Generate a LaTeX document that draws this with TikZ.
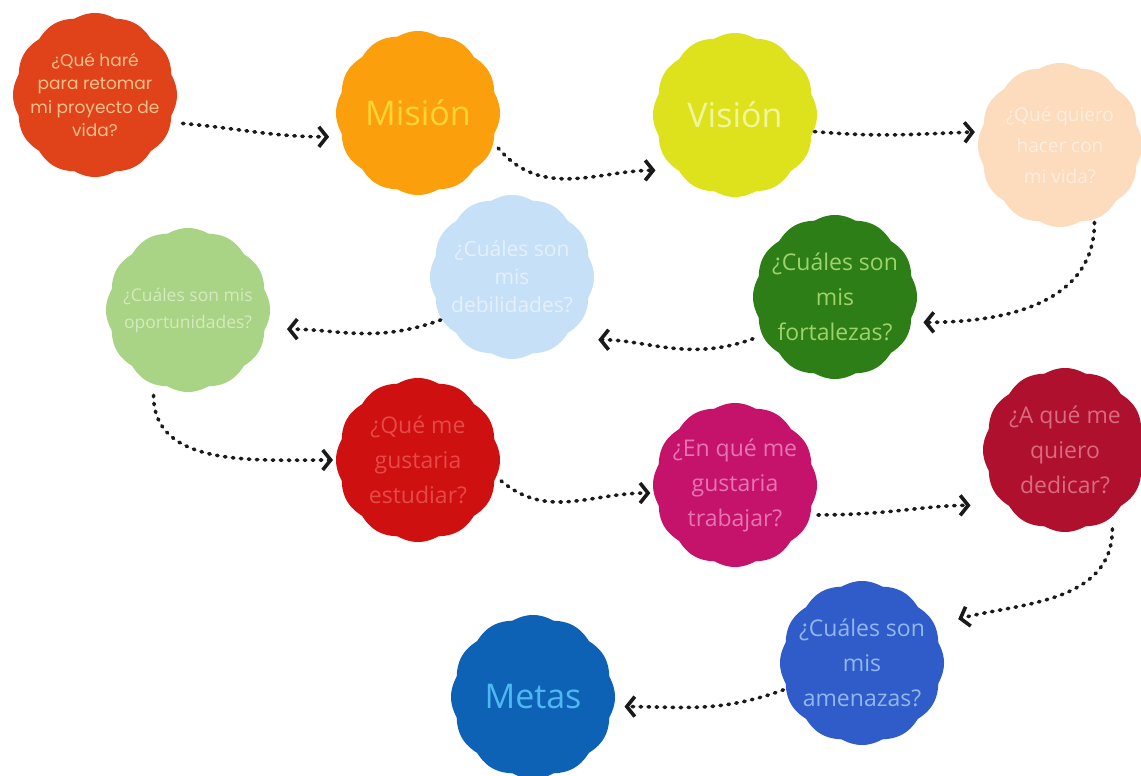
\documentclass[tikz,border=0pt]{standalone}
\usepackage{fontspec}
\setmainfont{Open Sans}
\newfontfamily\popp{Poppins}
\usetikzlibrary{arrows.meta}
\definecolor{c1}{HTML}{E0431A}\definecolor{t1}{HTML}{F6C08C}
\definecolor{c2}{HTML}{FB9F0C}\definecolor{t2}{HTML}{FFD530}
\definecolor{c3}{HTML}{DDE21C}\definecolor{t3}{HTML}{F3F59C}
\definecolor{c4}{HTML}{FDDCBE}\definecolor{t4}{HTML}{FFEEDD}
\definecolor{c5}{HTML}{C6E0F7}\definecolor{t5}{HTML}{E4F0FB}
\definecolor{c6}{HTML}{A9D385}\definecolor{t6}{HTML}{D3EBBE}
\definecolor{c7}{HTML}{2E7E17}\definecolor{t7}{HTML}{9ED36C}
\definecolor{c8}{HTML}{CE1010}\definecolor{t8}{HTML}{E44A46}
\definecolor{c9}{HTML}{C5136B}\definecolor{t9}{HTML}{E574B2}
\definecolor{c10}{HTML}{AE102E}\definecolor{t10}{HTML}{DA6A7E}
\definecolor{c11}{HTML}{2F5CC8}\definecolor{t11}{HTML}{92B6EE}
\definecolor{c12}{HTML}{0E62B6}\definecolor{t12}{HTML}{4DB8F2}
\definecolor{ink}{HTML}{1A1A1A}
\tikzset{
 blobnode/.style={circle, minimum size=184pt, inner sep=0pt, outer sep=0pt, align=center},
 big/.style={font=\fontsize{34}{38}\selectfont},
 mid/.style={font=\fontsize{23}{35}\selectfont},
 link/.style={draw=ink, line width=3.6pt, line cap=round, dash pattern=on 1.5pt off 6.5pt,
   -{Straight Barb[length=8pt,width=20pt,line width=3.6pt]}},
}
\newcommand\blob[7]{%
 \fill[#4] plot[domain=0:360, samples=241, variable=\t]
   ({#2+(79+3*abs(cos(6*\t)))*cos(\t)}, {#3+(79+3*abs(cos(6*\t)))*sin(\t)}) -- cycle;
 \node[blobnode, text=#5, #6] (#1) at (#2,#3) {#7};
}
\begin{document}
\begin{tikzpicture}[x=1pt,y=-1pt]
\fill[white] (0,0) rectangle (1141,776);
\useasboundingbox (0,0) rectangle (1141,776);
\blob{n1}{95}{95}{c1}{t1}{font=\popp\fontsize{17}{23.5}\selectfont}{¿Qué haré\\para retomar\\mi proyecto de\\vida?}
\blob{n2}{418}{113}{c2}{t2}{big}{Misión}
\blob{n3}{735}{115}{c3}{t3}{big}{Visión}
\blob{n4}{1060}{145}{c4}{t4}{font=\fontsize{19}{31}\selectfont}{¿Qué quiero\\hacer con\\mi vida?}
\blob{n5}{512}{277}{c5}{t5}{font=\fontsize{21}{28}\selectfont}{¿Cuáles son\\mis\\debilidades?}
\blob{n6}{188}{310}{c6}{t6}{font=\fontsize{17.5}{27}\selectfont}{¿Cuáles son mis\\oportunidades?}
\blob{n7}{835}{297}{c7}{t7}{mid}{¿Cuáles son\\mis\\fortalezas?}
\blob{n8}{418}{460}{c8}{t8}{mid}{¿Qué me\\gustaria\\estudiar?}
\blob{n9}{735}{485}{c9}{t9}{mid}{¿En qué me\\gustaria\\trabajar?}
\blob{n10}{1065}{450}{c10}{t10}{mid}{¿A qué me\\quiero\\dedicar?}
\blob{n11}{862}{663}{c11}{t11}{mid}{¿Cuáles son\\mis\\amenazas?}
\blob{n12}{533}{697}{c12}{t12}{big}{Metas}
\draw[link] (n1.-18) to[out=-5,in=180] (n2.195);
\draw[link, shorten <=-5pt, shorten >=6pt] (n2.-25) to[out=-50,in=180] (n3.217);
\draw[link, shorten <=-11pt, shorten >=-6pt] (n3.-11) to[out=-5,in=182] (n4.172.5);
\draw[link, shorten <=-8pt] (n4.-68) to[out=-90,in=0] (n7.-16);
\draw[link, shorten >=19pt] (n7.207) to[out=200,in=0] (n5.-43);
\draw[link, shorten <=-9pt, shorten >=9pt] (n5.210) to[out=200,in=0] (n6.-12.6);
\draw[link, shorten >=-7pt] (n6.248) to[out=-90,in=180] (n8.180);
\draw[link, shorten <=-7pt, shorten >=-7pt] (n8.-16) to[out=-40,in=180] (n9.185);
\draw[link, shorten <=-4pt, shorten >=21pt] (n9.-19) to[out=0,in=180] (n10.217);
\draw[link, shorten >=14pt] (n10.-59) to[out=-90,in=15] (n11.26);
\draw[link, shorten <=-9pt] (n11.199) to[out=200,in=0] (n12.-6);
\end{tikzpicture}
\end{document}
